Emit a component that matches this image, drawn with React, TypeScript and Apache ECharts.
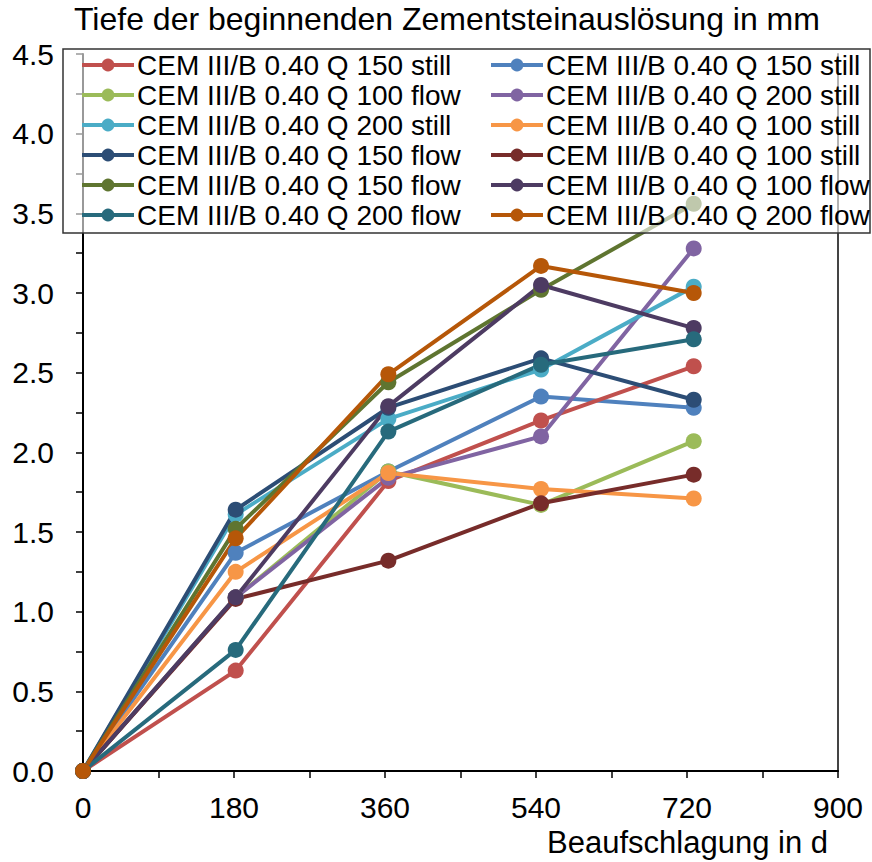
import React, { useEffect, useRef } from "react";
import * as echarts from "echarts";

const days = [0, 182, 364, 546, 728];

const labelQ150Still = "CEM III/B 0.40 Q 150 still";
const labelQ100Flow = "CEM III/B 0.40 Q 100 flow";
const labelQ200Still = "CEM III/B 0.40 Q 200 still";
const labelQ150Flow = "CEM III/B 0.40 Q 150 flow";
const labelQ100Still = "CEM III/B 0.40 Q 100 still";
const labelQ200Flow = "CEM III/B 0.40 Q 200 flow";

// values in mm at each day
const redQ150Still = [0, 0.63, 1.82, 2.2, 2.54];
const blueQ150Still = [0, 1.37, 1.88, 2.35, 2.28];
const greenQ100Flow = [0, 1.09, 1.88, 1.67, 2.07];
const purpleQ200Still = [0, 1.09, 1.84, 2.1, 3.28];
const aquaQ200Still = [0, 1.61, 2.21, 2.52, 3.04];
const orangeQ100Still = [0, 1.25, 1.87, 1.77, 1.71];
const darkBlueQ150Flow = [0, 1.64, 2.28, 2.59, 2.33];
const darkRedQ100Still = [0, 1.08, 1.32, 1.68, 1.86];
const darkGreenQ150Flow = [0, 1.52, 2.44, 3.02, 3.56];
const darkPurpleQ100Flow = [0, 1.09, 2.29, 3.05, 2.78];
const darkAquaQ200Flow = [0, 0.76, 2.13, 2.55, 2.71];
const darkOrangeQ200Flow = [0, 1.46, 2.49, 3.17, 3.0];

const yTicks = [0, 0.5, 1, 1.5, 2, 2.5, 3, 3.5, 4, 4.5];
const xTicks = [0, 180, 360, 540, 720, 900];

const title = "Tiefe der beginnenden Zementsteinauslösung in mm";
const xName = "Beaufschlagung in d";

type S = { id: string; label: string; color: string; values: number[] };

// drawing order (later on top)
const seriesDefs: S[] = [
  { id: "#2", label: labelQ150Still, color: "#4F81BD", values: blueQ150Still },
  { id: "#1", label: labelQ150Still, color: "#C0504D", values: redQ150Still },
  { id: "#1", label: labelQ100Flow, color: "#9BBB59", values: greenQ100Flow },
  { id: "#2", label: labelQ200Still, color: "#8064A2", values: purpleQ200Still },
  { id: "#1", label: labelQ200Still, color: "#4BACC6", values: aquaQ200Still },
  { id: "#1", label: labelQ100Still, color: "#F79646", values: orangeQ100Still },
  { id: "#1", label: labelQ150Flow, color: "#2C4D75", values: darkBlueQ150Flow },
  { id: "#2", label: labelQ100Still, color: "#772C2A", values: darkRedQ100Still },
  { id: "#2", label: labelQ150Flow, color: "#5F7530", values: darkGreenQ150Flow },
  { id: "#2", label: labelQ100Flow, color: "#4D3B62", values: darkPurpleQ100Flow },
  { id: "#1", label: labelQ200Flow, color: "#276A7C", values: darkAquaQ200Flow },
  { id: "#2", label: labelQ200Flow, color: "#B65708", values: darkOrangeQ200Flow },
];

const nameOf = (s: S) => s.label + " " + s.id;

const leftLegend = [
  [labelQ150Still, "#1"],
  [labelQ100Flow, "#1"],
  [labelQ200Still, "#1"],
  [labelQ150Flow, "#1"],
  [labelQ150Flow, "#2"],
  [labelQ200Flow, "#1"],
].map(([l, i]) => l + " " + i);
const rightLegend = [
  [labelQ150Still, "#2"],
  [labelQ200Still, "#2"],
  [labelQ100Still, "#1"],
  [labelQ100Still, "#2"],
  [labelQ100Flow, "#2"],
  [labelQ200Flow, "#2"],
].map(([l, i]) => l + " " + i);

const FONT = "Liberation Sans, Arial, sans-serif";

export default function App() {
  const ref = useRef<HTMLDivElement>(null);
  useEffect(() => {
    if (!ref.current) return;
    const chart = echarts.init(ref.current, undefined, { renderer: "svg" });
    const legendCommon = {
      orient: "vertical" as const,
      top: 51,
      itemWidth: 52,
      itemHeight: 16,
      itemGap: 2,
      selectedMode: false,
      z: 20,
      padding: 0,
      lineStyle: { width: 4 },
      formatter: (n: string) => n.replace(/ #\d$/, ""),
      textStyle: { fontSize: 28, color: "#000", fontFamily: FONT, padding: [0, 0, 0, -2] },
    };
    chart.setOption({
      animation: false,
      backgroundColor: "#fff",
      title: {
        text: title,
        left: 74,
        top: 3,
        padding: 0,
        textStyle: { fontSize: 32, fontWeight: "normal", color: "#000", fontFamily: FONT },
      },
      grid: { left: 83, right: 34, top: 54, bottom: 91, containLabel: false },
      legend: [
        { ...legendCommon, left: 80, data: leftLegend },
        { ...legendCommon, left: 489, data: rightLegend },
      ],
      graphic: [
        {
          type: "rect",
          z: 10,
          shape: { x: 63, y: 49, width: 807, height: 184 },
          style: { fill: "rgba(255,255,255,0.6)", stroke: "#333", lineWidth: 1.5 },
        },
      ],
      xAxis: {
        type: "value",
        min: 0,
        max: 900,
        interval: 180,
        name: xName,
        nameLocation: "end",
        nameGap: -10,
        nameTextStyle: {
          fontSize: 31,
          color: "#000",
          fontFamily: FONT,
          align: "right",
          verticalAlign: "top",
          padding: [56, 0, 0, 0],
        },
        axisLine: { lineStyle: { color: "#000", width: 2 } },
        axisTick: { inside: false, length: 7, lineStyle: { color: "#000", width: 1.5 } },
        minorTick: { show: true, splitNumber: 2, length: 7, lineStyle: { color: "#000", width: 1.5 } },
        splitLine: { show: false },
        axisLabel: {
          fontSize: 30,
          color: "#000",
          fontFamily: FONT,
          margin: 21,
          formatter: (v: number) => (xTicks.includes(v) ? String(v) : ""),
        },
      },
      yAxis: [
        {
          type: "value",
          min: 0,
          max: 4.5,
          interval: 0.5,
          axisLine: { show: true, lineStyle: { color: "#000", width: 2 } },
          axisTick: { show: true, inside: false, length: 7, lineStyle: { color: "#000", width: 1.5 } },
          minorTick: { show: true, splitNumber: 2, length: 7, lineStyle: { color: "#000", width: 1.5 } },
          splitLine: { show: false },
          axisLabel: {
            fontSize: 30,
            color: "#000",
            fontFamily: FONT,
            margin: 29,
            formatter: (v: number) => (yTicks.some((t) => Math.abs(t - v) < 1e-9) ? v.toFixed(1) : ""),
          },
        },
        {
          type: "value",
          min: 0,
          max: 4.5,
          interval: 0.5,
          position: "right",
          axisLine: { show: true, lineStyle: { color: "#444", width: 2 } },
          axisTick: { show: false },
          axisLabel: { show: false },
          splitLine: { show: false },
        },
      ],
      series: seriesDefs.map((s) => ({
        type: "line",
        name: nameOf(s),
        yAxisIndex: 0,
        data: days.map((d, i) => [d, s.values[i]]),
        symbol: "circle",
        symbolSize: 16,
        showSymbol: true,
        lineStyle: { width: 4, color: s.color },
        itemStyle: { color: s.color },
        z: 2,
      })),
    });
    return () => chart.dispose();
  }, []);
  return (
    <div
      ref={ref}
      style={{ position: "fixed", left: 0, top: 0, width: 872, height: 862 }}
    />
  );
}
